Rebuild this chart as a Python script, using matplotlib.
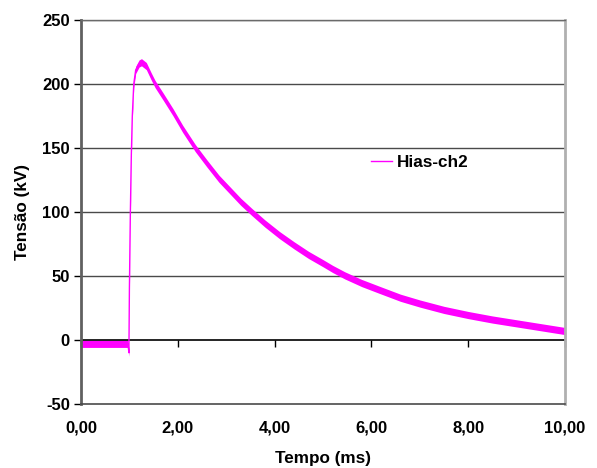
import matplotlib
matplotlib.use("Agg")
import matplotlib.pyplot as plt
import numpy as np

# values (time in ms, voltage in kV)
tempo_ms = [0.00, 0.20, 0.40, 0.60, 0.80, 0.97, 0.99, 1.00, 1.02, 1.04,
            1.06, 1.09, 1.13, 1.20, 1.25, 1.35, 1.45, 1.53, 1.70, 1.90,
            2.10, 2.36, 2.60, 2.85, 3.10, 3.30, 3.53, 3.80, 4.10, 4.40,
            4.70, 5.00, 5.20, 5.45, 5.80, 6.18, 6.60, 7.00, 7.50, 8.00,
            8.50, 9.00, 9.50, 10.00]
tensao_kv = [-3, -3, -3, -3, -3, -3, -10, 40, 100, 145,
             175, 200, 211, 216, 217, 214, 206, 200, 190, 178,
             165, 150, 138, 126, 116, 108, 100, 91, 82, 74,
             66.5, 60, 55.5, 50.5, 44.5, 39, 33, 28.5, 23.5, 19.5,
             16, 13, 10, 7]

serie = "Hias-ch2"
y_ticks = [-50, 0, 50, 100, 150, 200, 250]
x_ticks = [0, 2, 4, 6, 8, 10]
x_labels = ["0,00", "2,00", "4,00", "6,00", "8,00", "10,00"]

plt.rcParams["font.family"] = ["Liberation Sans", "DejaVu Sans"]
plt.rcParams["font.weight"] = "bold"
plt.rcParams["axes.unicode_minus"] = False

fig = plt.figure(figsize=(5.97, 4.68), dpi=100)
ax = fig.add_axes([81 / 597, 64 / 468, 484 / 597, 384 / 468])

t = np.array(tempo_ms)
v = np.array(tensao_kv)
mag = "#FF00FF"
# noise band of the trace
ax.fill_between(t, v - 2.8, v + 2.8, color=mag, lw=0)
ax.plot(t, v, color=mag, lw=1.0, label=serie)

ax.set_xlim(0, 10)
ax.set_ylim(-50, 250)
ax.set_yticks(y_ticks)
ax.set_xticks(x_ticks)
ax.set_xticklabels(x_labels)
for y in y_ticks[2:]:
    ax.axhline(y, color="#4a4a4a", lw=1.0, zorder=0)
ax.axhline(0, color="black", lw=1.2, zorder=1)

fs = 12
ax.tick_params(axis="y", direction="out", length=5, width=1, color="black",
               labelsize=fs, pad=3)
ax.tick_params(axis="x", length=0, labelsize=fs, pad=12)
for lab in ax.get_xticklabels() + ax.get_yticklabels():
    lab.set_fontweight("bold")

ax.spines["left"].set_color("#606060")
ax.spines["left"].set_linewidth(2)
ax.spines["right"].set_color("#b0b0b0")
ax.spines["right"].set_linewidth(2)
ax.spines["top"].set_color("#6a6a6a")
ax.spines["top"].set_linewidth(1)
ax.spines["bottom"].set_color("#4a4a4a")
ax.spines["bottom"].set_linewidth(1.2)

# tick marks on the zero line
sec = ax.secondary_xaxis(50 / 300)
sec.set_xticks(x_ticks)
sec.tick_params(axis="x", direction="out", length=5, width=1, labelbottom=False)
sec.spines["bottom"].set_visible(False)

ax.set_xlabel("Tempo (ms)", fontsize=12.3, fontweight="bold", labelpad=11)
ax.set_ylabel("Tensão (kV)", fontsize=12.3, fontweight="bold", labelpad=9)

ax.legend(loc="center left", bbox_to_anchor=(0.568, 0.628), frameon=False,
          handlelength=1.2, handletextpad=0.3,
          prop={"weight": "bold", "size": 12.3})

fig.savefig("out.png", dpi=100)
